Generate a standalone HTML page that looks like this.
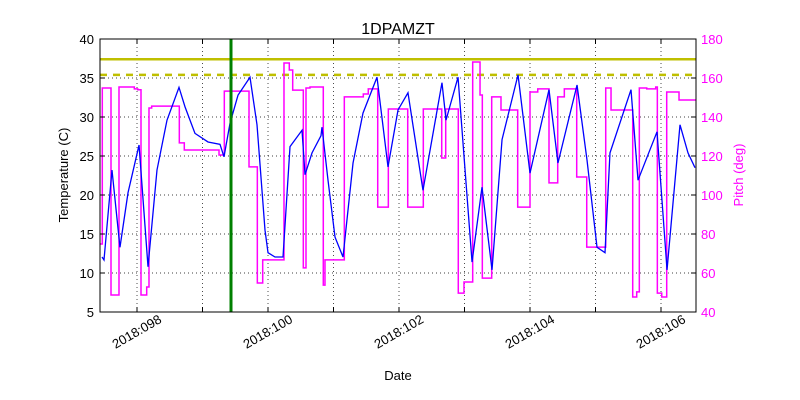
<!DOCTYPE html>
<html><head><meta charset="utf-8"><style>
body{margin:0;background:#fff;}
svg{display:block;font-family:"Liberation Sans","DejaVu Sans",sans-serif;}
</style></head><body>
<svg id="chart" width="800" height="400" viewBox="0 0 800 400">
<rect x="0" y="0" width="800" height="400" fill="#fff"/>
<text x="398" y="34" font-size="16" text-anchor="middle">1DPAMZT</text>
<g id="grid"></g>
<g id="plot"></g>
<g id="axes"></g>
<text x="398" y="380" font-size="13" text-anchor="middle">Date</text>
<text transform="translate(68,175) rotate(-90)" font-size="13" text-anchor="middle">Temperature (C)</text>
<text transform="translate(743,175) rotate(-90)" font-size="13" text-anchor="middle" fill="#ff00ff">Pitch (deg)</text>
</svg>
<script>
const tempDays=[97.466,97.496,97.618,97.740,97.863,98.031,98.168,98.305,98.458,98.641,98.733,98.885,99.084,99.267,99.328,99.420,99.542,99.725,99.832,99.954,100.0,100.107,100.229,100.336,100.519,100.565,100.672,100.809,100.824,100.916,101.023,101.145,101.298,101.450,101.664,101.832,101.985,102.137,102.366,102.656,102.718,102.901,103.115,103.267,103.420,103.573,103.817,104.0,104.290,104.427,104.718,104.870,105.023,105.145,105.221,105.542,105.649,105.939,106.092,106.290,106.412,106.519];
const tempValues=[12.05,11.67,23.2,13.3,20.3,26.4,10.8,23.2,29.6,33.8,31.3,27.9,26.8,26.5,24.9,29.2,32.8,35.1,29.0,15.5,12.6,12.05,12.05,26.2,28.3,22.6,25.4,27.6,28.7,21.9,14.6,12.05,24.1,30.5,35.1,23.6,30.9,33.1,20.6,34.4,29.6,35.1,11.4,21.0,10.4,27.1,35.4,22.8,33.5,24.1,34.1,24.5,13.3,12.6,25.4,33.5,21.9,28.1,10.4,29.0,25.4,23.5];
const pitchDays=[97.435,97.470,97.603,97.725,97.959,98.011,98.061,98.148,98.183,98.224,98.646,98.722,99.252,99.333,99.710,99.837,99.919,100.244,100.325,100.377,100.539,100.580,100.641,100.844,100.870,101.165,101.455,101.531,101.675,101.837,102.133,102.371,102.652,102.713,102.905,102.992,103.125,103.237,103.272,103.415,103.557,103.812,104.0,104.118,104.290,104.423,104.524,104.713,104.866,105.156,105.237,105.568,105.629,105.669,105.782,105.919,105.944,106.011,106.087,106.275,106.534];
const pitchValues=[74.9,154.9,48.7,155.4,154.4,154.0,48.7,52.8,144.6,145.6,126.7,123.1,120.5,153.3,114.4,54.9,66.7,167.7,164.1,153.8,62.6,154.9,155.4,53.8,66.7,150.3,151.8,154.4,93.8,144.1,93.8,144.1,119,144.1,49.7,55.4,168.2,151.3,57.4,150.3,143.6,93.8,152.8,154.4,106.2,150.3,154.4,109.2,73.3,154.9,143.6,47.7,50.3,154.9,154.4,155.4,49.7,47.7,152.8,148.7,148.7];
const limitValues=[37.4,35.4];
const markerDay=[99.435];
const xTickDays=[98,100,102,104,106];
const xTickLabels=["2018:098","2018:100","2018:102","2018:104","2018:106"];
const xGridDays=[98,99,100,101,102,103,104,105,106];
const yTicks=[5,10,15,20,25,30,35,40];
const y2Ticks=[40,60,80,100,120,140,160,180];

const L=100,R=696,T=39,B=312;
const xS=d=>L+(d-97.435)*65.5;
const yS=v=>B-(v-5)*(B-T)/35;
const y2S=v=>B-(v-40)*(B-T)/140;
const NS="http://www.w3.org/2000/svg";
function mk(parent,tag,attrs){const e=document.createElementNS(NS,tag);for(const k in attrs)e.setAttribute(k,attrs[k]);document.getElementById(parent).appendChild(e);return e;}

xGridDays.forEach(d=>{const e=mk('grid','line',{x1:xS(d),x2:xS(d),y1:T,y2:B,stroke:'#000','stroke-width':0.7,'stroke-dasharray':'1,3'});

});
yTicks.forEach(v=>{const e=mk('grid','line',{x1:L,x2:R,y1:yS(v),y2:yS(v),stroke:'#000','stroke-width':0.7,'stroke-dasharray':'1,3'});

});

const lim1=mk('plot','line',{x1:L,x2:R,y1:yS(limitValues[0]),y2:yS(limitValues[0]),stroke:'#bfbf00','stroke-width':2.5});


const lim2=mk('plot','line',{x1:L,x2:R,y1:yS(limitValues[1]),y2:yS(limitValues[1]),stroke:'#bfbf00','stroke-width':2.5,'stroke-dasharray':'7,6'});



let pd='';
pitchDays.forEach((d,i)=>{const x=xS(d),y=y2S(pitchValues[i]);
 if(i===0)pd+=`M${x},${y}`;else pd+=`L${x},${y2S(pitchValues[i-1])}L${x},${y}`;});
const pp=mk('plot','path',{d:pd,fill:'none',stroke:'#ff00ff','stroke-width':1.5});



const td=tempDays.map((d,i)=>(i?'L':'M')+xS(d)+','+yS(tempValues[i])).join('');
const tp=mk('plot','path',{d:td,fill:'none',stroke:'#0000ff','stroke-width':1.3});



const mv=mk('plot','line',{x1:xS(markerDay[0]),x2:xS(markerDay[0]),y1:T,y2:B,stroke:'#008000','stroke-width':3});



const fr=mk('axes','rect',{x:L,y:T,width:R-L,height:B-T,fill:'none',stroke:'#000','stroke-width':1});


yTicks.forEach(v=>{
 mk('axes','line',{x1:L,x2:L+5,y1:yS(v),y2:yS(v),stroke:'#000'});
 const t=mk('axes','text',{x:L-6,y:yS(v)+5,'font-size':13,'text-anchor':'end'});t.textContent=v;
 
 });
y2Ticks.forEach(v=>{
 mk('axes','line',{x1:R-5,x2:R,y1:y2S(v),y2:y2S(v),stroke:'#000'});
 const t=mk('axes','text',{x:R+5,y:y2S(v)+5,'font-size':13,fill:'#ff00ff'});t.textContent=v;
 
 });
xGridDays.forEach(d=>{mk('axes','line',{x1:xS(d),x2:xS(d),y1:B,y2:B-5,stroke:'#000'});mk('axes','line',{x1:xS(d),x2:xS(d),y1:T,y2:T+5,stroke:'#000'});});
xTickDays.forEach((d,i)=>{const x=xS(d);const cy=B+20;
 const t=mk('axes','text',{x:x,y:cy+4,'font-size':13,'text-anchor':'middle',transform:`rotate(-30 ${x} ${cy})`});
 t.textContent=xTickLabels[i];
 
 });
</script>
</body></html>
